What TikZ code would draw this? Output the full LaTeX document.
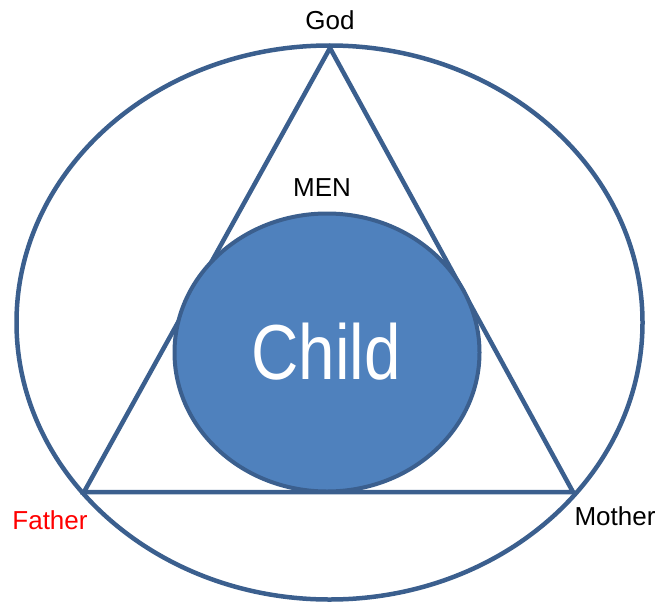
\documentclass[tikz,border=0pt]{standalone}
\usepackage{fontspec}
\setmainfont{Liberation Sans}
\definecolor{edgeblue}{HTML}{3B5F8E}
\definecolor{fillblue}{HTML}{4F81BD}
\begin{document}
\begin{tikzpicture}[x=1pt,y=-1pt,
  shapeline/.style={draw=edgeblue,line width=4.5pt},
  lbl/.style={font=\fontsize{26}{29}\selectfont,inner sep=0pt}]
\useasboundingbox (0,0) rectangle (660,602);
% outer ellipse
\draw[shapeline] (329.5,322.5) ellipse [x radius=313, y radius=277];
% triangle
\coordinate (god) at (330,48);
\coordinate (father) at (84,492);
\coordinate (mother) at (573,492);
\draw[shapeline,line join=miter] (god) -- (father) -- (mother) -- cycle;
% inner circle
\draw[shapeline,fill=fillblue,line width=4pt] (327,352.5) ellipse [x radius=152.5, y radius=139];
\node[inner sep=0pt,text=white] (child) at (326,352) {\scalebox{0.84}[1]{\fontsize{78}{80}\selectfont Child}};
% labels
\node[lbl] (godl) at (330,20) {God};
\node[lbl] (men) at (322,188) {MEN};
\node[lbl,text=red] (fatherl) at (50,520) {Father};
\node[lbl] (motherl) at (615,516) {Mother};
\end{tikzpicture}
\end{document}
